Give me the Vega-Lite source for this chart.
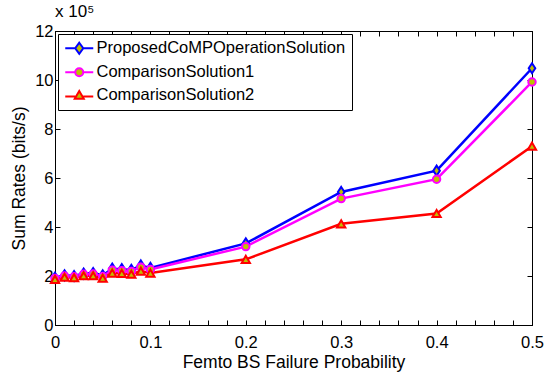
{
  "$schema": "https://vega.github.io/schema/vega-lite/v6.json",
  "width": 477,
  "height": 294,
  "autosize": {"type": "none"},
  "padding": {"left": 55, "top": 31, "right": 14, "bottom": 47},
  "background": "white",
  "title": {"text": "x 10⁵", "anchor": "start", "frame": "group", "offset": 2, "fontSize": 17, "fontWeight": "normal", "font": "Liberation Sans", "color": "black"},
  "config": {
    "font": "Liberation Sans",
    "view": {"stroke": "black", "strokeWidth": 1},
    "axis": {"grid": false, "domainColor": "black", "tickColor": "black", "labelColor": "black", "titleColor": "black", "labelFont": "Liberation Sans", "titleFont": "Liberation Sans", "labelFontSize": 16.5, "titleFontSize": 17.5, "titleFontWeight": "normal", "tickSize": -5, "domainWidth": 1, "tickWidth": 1}
  },
  "data": {"values": [
    {"series": "ProposedCoMPOperationSolution", "p": 0.0, "rate": 1.93},
    {"series": "ProposedCoMPOperationSolution", "p": 0.01, "rate": 2.03},
    {"series": "ProposedCoMPOperationSolution", "p": 0.02, "rate": 2.0},
    {"series": "ProposedCoMPOperationSolution", "p": 0.03, "rate": 2.1},
    {"series": "ProposedCoMPOperationSolution", "p": 0.04, "rate": 2.12},
    {"series": "ProposedCoMPOperationSolution", "p": 0.05, "rate": 2.03},
    {"series": "ProposedCoMPOperationSolution", "p": 0.06, "rate": 2.3},
    {"series": "ProposedCoMPOperationSolution", "p": 0.07, "rate": 2.28},
    {"series": "ProposedCoMPOperationSolution", "p": 0.08, "rate": 2.25},
    {"series": "ProposedCoMPOperationSolution", "p": 0.09, "rate": 2.43},
    {"series": "ProposedCoMPOperationSolution", "p": 0.1, "rate": 2.33},
    {"series": "ProposedCoMPOperationSolution", "p": 0.2, "rate": 3.33},
    {"series": "ProposedCoMPOperationSolution", "p": 0.3, "rate": 5.43},
    {"series": "ProposedCoMPOperationSolution", "p": 0.4, "rate": 6.3},
    {"series": "ProposedCoMPOperationSolution", "p": 0.5, "rate": 10.48},
    {"series": "ComparisonSolution1", "p": 0.0, "rate": 1.9},
    {"series": "ComparisonSolution1", "p": 0.01, "rate": 2.0},
    {"series": "ComparisonSolution1", "p": 0.02, "rate": 1.97},
    {"series": "ComparisonSolution1", "p": 0.03, "rate": 2.07},
    {"series": "ComparisonSolution1", "p": 0.04, "rate": 2.08},
    {"series": "ComparisonSolution1", "p": 0.05, "rate": 1.98},
    {"series": "ComparisonSolution1", "p": 0.06, "rate": 2.24},
    {"series": "ComparisonSolution1", "p": 0.07, "rate": 2.22},
    {"series": "ComparisonSolution1", "p": 0.08, "rate": 2.19},
    {"series": "ComparisonSolution1", "p": 0.09, "rate": 2.36},
    {"series": "ComparisonSolution1", "p": 0.1, "rate": 2.27},
    {"series": "ComparisonSolution1", "p": 0.2, "rate": 3.2},
    {"series": "ComparisonSolution1", "p": 0.3, "rate": 5.16},
    {"series": "ComparisonSolution1", "p": 0.4, "rate": 5.95},
    {"series": "ComparisonSolution1", "p": 0.5, "rate": 9.92},
    {"series": "ComparisonSolution2", "p": 0.0, "rate": 1.86},
    {"series": "ComparisonSolution2", "p": 0.01, "rate": 1.95},
    {"series": "ComparisonSolution2", "p": 0.02, "rate": 1.93},
    {"series": "ComparisonSolution2", "p": 0.03, "rate": 2.01},
    {"series": "ComparisonSolution2", "p": 0.04, "rate": 2.01},
    {"series": "ComparisonSolution2", "p": 0.05, "rate": 1.91},
    {"series": "ComparisonSolution2", "p": 0.06, "rate": 2.12},
    {"series": "ComparisonSolution2", "p": 0.07, "rate": 2.11},
    {"series": "ComparisonSolution2", "p": 0.08, "rate": 2.07},
    {"series": "ComparisonSolution2", "p": 0.09, "rate": 2.2},
    {"series": "ComparisonSolution2", "p": 0.1, "rate": 2.12},
    {"series": "ComparisonSolution2", "p": 0.2, "rate": 2.68},
    {"series": "ComparisonSolution2", "p": 0.3, "rate": 4.13},
    {"series": "ComparisonSolution2", "p": 0.4, "rate": 4.55},
    {"series": "ComparisonSolution2", "p": 0.5, "rate": 7.3}
  ]},
  "layer": [
    {
      "mark": {"type": "line", "strokeWidth": 2.5},
      "encoding": {
        "x": {"field": "p", "type": "quantitative", "scale": {"domain": [0, 0.5], "nice": false, "zero": false},
          "axis": {"orient": "bottom", "title": "Femto BS Failure Probability", "values": [0,0.02,0.04,0.06,0.08,0.1,0.12,0.14,0.16,0.18,0.2,0.22,0.24,0.26,0.28,0.3,0.32,0.34,0.36,0.38,0.4,0.42,0.44,0.46,0.48,0.5],
            "labelExpr": "abs(datum.value*10 - round(datum.value*10)) < 1e-6 ? format(datum.value, '.1~f') : ''", "labelPadding": 14, "titlePadding": 3, "labelFlush": false}},
        "y": {"field": "rate", "type": "quantitative", "scale": {"domain": [0, 12], "nice": false},
          "axis": {"orient": "left", "title": "Sum Rates (bits/s)", "values": [0,2,4,6,8,10,12], "labelPadding": 7, "titlePadding": 6, "labelFlush": false}},
        "color": {"field": "series", "type": "nominal",
          "scale": {"domain": ["ProposedCoMPOperationSolution", "ComparisonSolution1", "ComparisonSolution2"], "range": ["#0000ff", "#ff00ff", "#ff0000"]},
          "legend": {"title": null, "orient": "top-left", "offset": 3, "strokeColor": "black", "fillColor": "white", "padding": 6, "symbolOffset": 7, "labelOffset": 9, "labelFontSize": 16.5, "labelFont": "Liberation Sans", "labelColor": "black", "symbolSize": 100, "rowPadding": 6, "labelLimit": 400, "symbolStrokeWidth": 2,
            "encode": {"symbols": {"update": {
              "shape": {"signal": "datum.value === 'ProposedCoMPOperationSolution' ? 'M-2.8,0H-0.8M0,-1.1L0.8,0L0,1.1L-0.8,0ZM0.8,0H2.8' : datum.value === 'ComparisonSolution1' ? 'M-2.8,0H-0.8M0.8,0A0.8,0.8 0 1,1 -0.8,0A0.8,0.8 0 1,1 0.8,0ZM0.8,0H2.8' : 'M-2.8,0.25H-0.8M0,-0.85L0.9,0.7L-0.9,0.7ZM0.8,0.25H2.8'"},
              "fill": {"value": "#bfbf00"},
              "fillOpacity": {"value": 1},
              "opacity": {"value": 1},
              "strokeWidth": {"value": 2}
            }}}}}
      }
    },
    {
      "transform": [{"filter": "datum.series === 'ProposedCoMPOperationSolution'"}],
      "mark": {"type": "point", "filled": false, "fill": "#bfbf00", "fillOpacity": 1, "opacity": 1, "strokeWidth": 2, "size": 60, "shape": "M0,-1.3L0.85,0L0,1.3L-0.85,0Z", "stroke": "#0000ff"},
      "encoding": {
        "x": {"field": "p", "type": "quantitative",
          "axis": {"orient": "top", "title": null, "labels": false, "values": [0,0.02,0.04,0.06,0.08,0.1,0.12,0.14,0.16,0.18,0.2,0.22,0.24,0.26,0.28,0.3,0.32,0.34,0.36,0.38,0.4,0.42,0.44,0.46,0.48,0.5]}},
        "y": {"field": "rate", "type": "quantitative",
          "axis": {"orient": "right", "title": null, "labels": false, "values": [0,2,4,6,8,10,12]}}
      }
    },
    {
      "transform": [{"filter": "datum.series === 'ComparisonSolution1'"}],
      "mark": {"type": "point", "filled": false, "fill": "#bfbf00", "fillOpacity": 1, "opacity": 1, "strokeWidth": 2, "size": 55, "shape": "circle", "stroke": "#ff00ff"},
      "encoding": {
        "x": {"field": "p", "type": "quantitative", "axis": null},
        "y": {"field": "rate", "type": "quantitative", "axis": null}
      }
    },
    {
      "transform": [{"filter": "datum.series === 'ComparisonSolution2'"}],
      "mark": {"type": "point", "filled": false, "fill": "#bfbf00", "fillOpacity": 1, "opacity": 1, "strokeWidth": 2, "size": 68, "shape": "triangle-up", "stroke": "#ff0000"},
      "encoding": {
        "x": {"field": "p", "type": "quantitative", "axis": null},
        "y": {"field": "rate", "type": "quantitative", "axis": null}
      }
    }
  ],
  "resolve": {"axis": {"x": "independent", "y": "independent"}}
}
